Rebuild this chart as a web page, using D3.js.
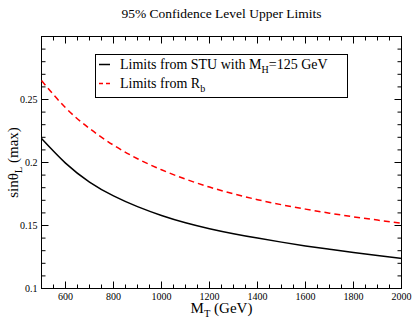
<!DOCTYPE html>
<html>
<head>
<meta charset="utf-8">
<script src="https://cdn.jsdelivr.net/npm/d3@7"></script>
<style>
  body { margin: 0; background: #fff; }
</style>
</head>
<body>
<svg id="chart" width="413" height="320"></svg>
<script>
// masses (GeV)
const massT = [500, 600, 700, 800, 900, 1000, 1100, 1200, 1300, 1400, 1500, 1600, 1700, 1800, 1900, 2000];
// limits from STU with MH = 125 GeV
const stuLimit = [0.219, 0.1995, 0.1845, 0.1735, 0.165, 0.158, 0.1522, 0.1475, 0.1435, 0.140, 0.1368, 0.1338, 0.1311, 0.1285, 0.1261, 0.1238];
// limits from Rb
const rbLimit = [0.265, 0.2435, 0.227, 0.2138, 0.203, 0.1942, 0.1868, 0.1805, 0.1751, 0.1705, 0.1665, 0.163, 0.1598, 0.1569, 0.1543, 0.1519];

const xTicks = [600, 800, 1000, 1200, 1400, 1600, 1800, 2000];
const yTicks = [0.1, 0.15, 0.2, 0.25];

const serif = "'Liberation Serif', 'Times New Roman', Times, serif";

let svg = d3.select("#chart");
let margin = {left: 41.5, right: 11.5, top: 36.5, bottom: 31.5};
let width = 413, height = 320;

let x = d3.scaleLinear().domain([500, 2000]).range([margin.left, width - margin.right]);
let y = d3.scaleLinear().domain([0.1, 0.3]).range([height - margin.bottom, margin.top]);

// title
svg.append("text")
    .attr("x", (x.range()[0] + x.range()[1]) / 2)
    .attr("y", 18)
    .attr("text-anchor", "middle")
    .style("font-family", serif)
    .style("font-size", "13.5px")
    .text("95% Confidence Level Upper Limits");

// minor and major ticks, mirrored on all sides, pointing in
let xMinor = d3.range(550, 2000, 50).filter(d => d % 200 !== 0);
let yMinor = d3.range(11, 30).filter(d => d % 5 !== 0).map(d => d / 100);
let ticks = svg.append("g").attr("stroke", "#000").attr("stroke-width", 1);

function tickX(v, len) {
    ticks.append("line").attr("x1", x(v)).attr("x2", x(v)).attr("y1", y(0.1)).attr("y2", y(0.1) - len);
    ticks.append("line").attr("x1", x(v)).attr("x2", x(v)).attr("y1", y(0.3)).attr("y2", y(0.3) + len);
}
function tickY(v, len) {
    ticks.append("line").attr("y1", y(v)).attr("y2", y(v)).attr("x1", x(500)).attr("x2", x(500) + len);
    ticks.append("line").attr("y1", y(v)).attr("y2", y(v)).attr("x1", x(2000)).attr("x2", x(2000) - len);
}
xMinor.forEach(d => tickX(d, 4));
xTicks.forEach(d => tickX(d, 7));
yMinor.forEach(d => tickY(d, 4));
yTicks.concat([0.3]).forEach(d => tickY(d, 7));

// frame
svg.append("rect")
    .attr("x", x(500)).attr("y", y(0.3))
    .attr("width", x(2000) - x(500)).attr("height", y(0.1) - y(0.3))
    .attr("fill", "none").attr("stroke", "#000");

// tick labels
svg.append("g").selectAll("text")
    .data(xTicks).join("text")
    .attr("x", d => x(d)).attr("y", y(0.1) + 11)
    .attr("text-anchor", "middle")
    .style("font-family", serif)
    .style("font-size", "10px")
    .text(d => d);

svg.append("g").selectAll("text")
    .data(yTicks).join("text")
    .attr("x", x(500) - 4).attr("y", d => y(d) + 3.5)
    .attr("text-anchor", "end")
    .style("font-family", serif)
    .style("font-size", "10px")
    .text(d => d3.format("")(d));

// axis titles
let xt = svg.append("text")
    .attr("x", (x.range()[0] + x.range()[1]) / 2)
    .attr("y", 313)
    .attr("text-anchor", "middle")
    .style("font-family", serif)
    .style("font-size", "15px");
xt.append("tspan").text("M");
xt.append("tspan").attr("dy", 4).style("font-size", "10.5px").text("T");
xt.append("tspan").attr("dy", -4).text(" (GeV)");

let yt = svg.append("text")
    .attr("transform", "translate(18," + ((y.range()[0] + y.range()[1]) / 2) + ") rotate(-90)")
    .attr("text-anchor", "middle")
    .style("font-family", serif)
    .style("font-size", "15px");
yt.append("tspan").text("sinθ");
yt.append("tspan").attr("dy", 4).style("font-size", "10.5px").text("L");
yt.append("tspan").attr("dy", -4).text(" (max)");

// curves
let line = d3.line()
    .x((d, i) => x(massT[i]))
    .y(d => y(d))
    .curve(d3.curveNatural);

svg.append("path")
    .attr("d", line(stuLimit))
    .attr("fill", "none")
    .attr("stroke", "#000")
    .attr("stroke-width", 1.5);

svg.append("path")
    .attr("d", line(rbLimit))
    .attr("fill", "none")
    .attr("stroke", "#ff0000")
    .attr("stroke-width", 1.5)
    .attr("stroke-dasharray", "6,4");

// legend
let legend = svg.append("g");
legend.append("rect")
    .attr("x", 95.5).attr("y", 54.5).attr("width", 252).attr("height", 43)
    .attr("fill", "#fff").attr("stroke", "#000");

let items = [
    {color: "#000", dash: null, main: "Limits from STU with M", sub: "H", tail: "=125 GeV"},
    {color: "#ff0000", dash: "4,3", main: "Limits from R", sub: "b", tail: ""}
];
items.forEach((it, i) => {
    let yy = 64.5 + i * 19;
    legend.append("line")
        .attr("x1", 99).attr("x2", 110).attr("y1", yy).attr("y2", yy)
        .attr("stroke", it.color).attr("stroke-width", 1.5)
        .attr("stroke-dasharray", it.dash);
    let t = legend.append("text")
        .attr("x", 120).attr("y", yy + 4.5)
        .style("font-family", serif)
        .style("font-size", "14px");
    t.append("tspan").text(it.main);
    t.append("tspan").attr("dy", 4).style("font-size", "10px").text(it.sub);
    if (it.tail) t.append("tspan").attr("dy", -4).text(it.tail);
});
</script>
</body>
</html>
